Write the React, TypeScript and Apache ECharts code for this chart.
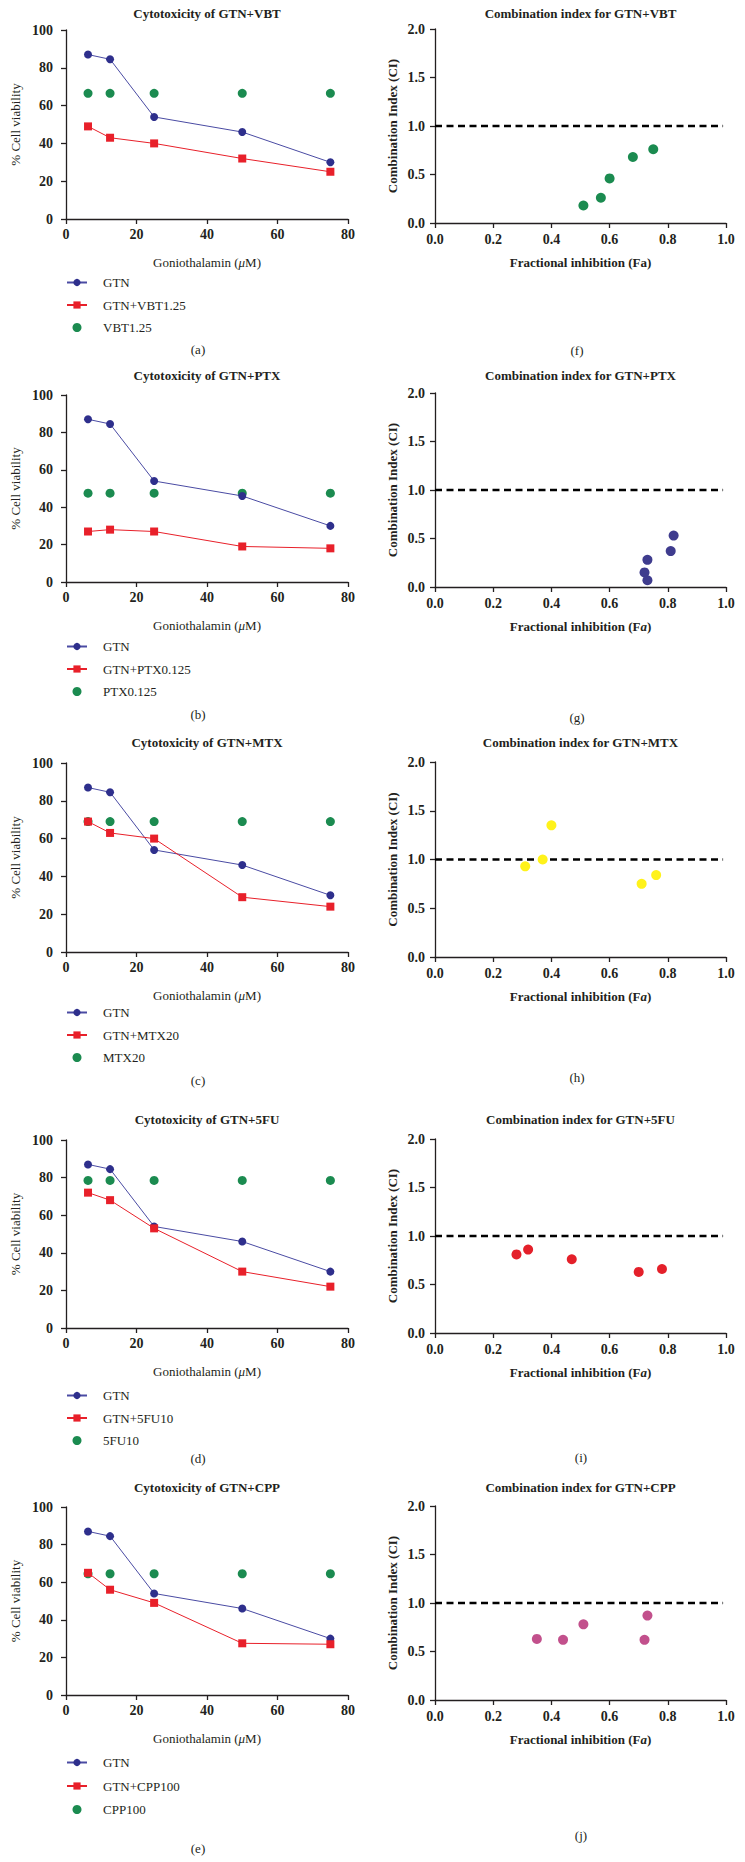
import React, { useEffect, useRef } from "react";
import * as echarts from "echarts";

// ---------- data ----------
const DOSES = [6.25, 12.5, 25, 50, 75];
const GTN = [87, 84.5, 54, 46, 30];

const PANEL_LETTERS_LEFT = ["(a)", "(b)", "(c)", "(d)", "(e)"];
const PANEL_LETTERS_RIGHT = ["(f)", "(g)", "(h)", "(i)", "(j)"];
const DRUG_KEYS = ["VBT", "PTX", "MTX", "5FU", "CPP"];

const COMBO_NAMES = ["GTN+VBT1.25", "GTN+PTX0.125", "GTN+MTX20", "GTN+5FU10", "GTN+CPP100"];
const DRUG_NAMES = ["VBT1.25", "PTX0.125", "MTX20", "5FU10", "CPP100"];

const COMBO_VBT = [49, 43, 40, 32, 25];
const COMBO_PTX = [27, 28, 27, 19, 18];
const COMBO_MTX = [69, 63, 60, 29, 24];
const COMBO_5FU = [72, 68, 53, 30, 22];
const COMBO_CPP = [65, 56, 49, 27.5, 27];

const DRUG_VBT = [66.5, 66.5, 66.5, 66.5, 66.5];
const DRUG_PTX = [47.5, 47.5, 47.5, 47.5, 47.5];
const DRUG_MTX = [69, 69, 69, 69, 69];
const DRUG_5FU = [78.5, 78.5, 78.5, 78.5, 78.5];
const DRUG_CPP = [64.5, 64.5, 64.5, 64.5, 64.5];

const FA_VBT = [0.51, 0.57, 0.6, 0.68, 0.75];
const CI_VBT = [0.18, 0.26, 0.46, 0.68, 0.76];
const FA_PTX = [0.72, 0.73, 0.73, 0.81, 0.82];
const CI_PTX = [0.15, 0.07, 0.28, 0.37, 0.53];
const FA_MTX = [0.31, 0.37, 0.4, 0.71, 0.76];
const CI_MTX = [0.93, 1.0, 1.35, 0.75, 0.84];
const FA_5FU = [0.28, 0.32, 0.47, 0.7, 0.78];
const CI_5FU = [0.81, 0.86, 0.76, 0.63, 0.66];
const FA_CPP = [0.35, 0.44, 0.51, 0.72, 0.73];
const CI_CPP = [0.63, 0.62, 0.78, 0.62, 0.87];

const CI_THRESHOLD = 1.0;
const CI_LINE_X = [0, 0.99];

const VIAB_TICKS_MAX = 100;
const DOSE_TICKS_MAX = 80;

// ---------- layout / style ----------
const COMBOS = [COMBO_VBT, COMBO_PTX, COMBO_MTX, COMBO_5FU, COMBO_CPP];
const DRUGS = [DRUG_VBT, DRUG_PTX, DRUG_MTX, DRUG_5FU, DRUG_CPP];
const FAS = [FA_VBT, FA_PTX, FA_MTX, FA_5FU, FA_CPP];
const CIS = [CI_VBT, CI_PTX, CI_MTX, CI_5FU, CI_CPP];
const CI_COLORS = ["#1b8b50", "#3f3c8e", "#fff21a", "#e4202a", "#c2508c"];

const LEFT_X = 66;
const LEFT_W = 282;
const RIGHT_X = 435;
const RIGHT_W = 291;
const LEFT_TOPS = [30, 395, 763, 1140, 1507];
const LEFT_HS = [189, 187, 189, 188, 188];
const RIGHT_TOPS = [29, 393, 762, 1139, 1506];
const RIGHT_HS = [194, 194, 195, 194, 194];
const TITLE_YS = [13, 375, 742, 1119, 1487];
const LEGEND_TOPS = [276, 640, 1006, 1389, 1756];
const LEGEND_GAPS = [9.5, 9.5, 9.5, 9.5, 10.5];
const LEFT_LABEL_YS = [349, 714, 1080, 1458, 1848];
const RIGHT_LABEL_YS = [350, 717, 1077, 1457, 1835];

const FONT = '"Liberation Serif", "Times New Roman", serif';
const NAVY = "#2e2f8c";
const NAVY_LINE = "#4a4ba3";
const RED = "#e8202a";
const GREEN = "#1b8b50";
const AXIS = "#231f20";

export default function App() {
  const ref = useRef<HTMLDivElement>(null);

  useEffect(() => {
    if (!ref.current) return;
    const chart = echarts.init(ref.current, undefined, { renderer: "svg" });

    const grids: any[] = [];
    const xAxes: any[] = [];
    const yAxes: any[] = [];
    const series: any[] = [];
    const legends: any[] = [];
    const graphics: any[] = [];

    const axisCommon = {
      axisLine: { show: true, lineStyle: { color: AXIS, width: 1.3 } },
      axisTick: { show: true, inside: false, length: 5, lineStyle: { color: AXIS, width: 1.3 } },
      splitLine: { show: false },
    };

    for (let i = 0; i < 5; i++) {
      // left grid
      grids.push({ left: LEFT_X, top: LEFT_TOPS[i], width: LEFT_W, height: LEFT_HS[i], containLabel: false });
      const gl = grids.length - 1;
      xAxes.push({
        gridIndex: gl,
        type: "value",
        min: 0,
        max: DOSE_TICKS_MAX,
        interval: 20,
        ...axisCommon,
        axisLabel: { margin: 8, fontFamily: FONT, fontWeight: "bold", fontSize: 14, color: AXIS },
        name: "Goniothalamin ({i|μ}M)",
        nameLocation: "middle",
        nameGap: 37,
        nameTextStyle: {
          fontFamily: FONT,
          fontSize: 13,
          color: AXIS,
          rich: { i: { fontFamily: FONT, fontSize: 13, fontStyle: "italic", color: AXIS } },
        },
      });
      yAxes.push({
        gridIndex: gl,
        type: "value",
        min: 0,
        max: VIAB_TICKS_MAX,
        interval: 20,
        ...axisCommon,
        axisLabel: { margin: 13, fontFamily: FONT, fontWeight: "bold", fontSize: 14, color: AXIS },
        name: "% Cell viability",
        nameLocation: "middle",
        nameGap: 44,
        nameTextStyle: { fontFamily: FONT, fontSize: 13, color: AXIS },
      });
      series.push({
        name: "GTN",
        type: "line",
        xAxisIndex: gl,
        yAxisIndex: gl,
        data: DOSES.map((d, k) => [d, GTN[k]]),
        symbol: "circle",
        symbolSize: 8,
        itemStyle: { color: NAVY },
        lineStyle: { color: NAVY_LINE, width: 1 },
        z: 3,
      });
      series.push({
        name: COMBO_NAMES[i],
        type: "line",
        xAxisIndex: gl,
        yAxisIndex: gl,
        data: DOSES.map((d, k) => [d, COMBOS[i][k]]),
        symbol: "rect",
        symbolSize: 8,
        itemStyle: { color: RED },
        lineStyle: { color: RED, width: 1 },
        z: 4,
      });
      series.push({
        name: DRUG_NAMES[i],
        type: "scatter",
        xAxisIndex: gl,
        yAxisIndex: gl,
        data: DOSES.map((d, k) => [d, DRUGS[i][k]]),
        symbol: "circle",
        symbolSize: 9,
        itemStyle: { color: GREEN, opacity: 1 },
        z: 2,
      });
      legends.push({
        orient: "vertical",
        left: LEFT_X,
        top: LEGEND_TOPS[i],
        itemWidth: 20,
        itemHeight: 9,
        itemGap: LEGEND_GAPS[i],
        padding: 0,
        selectedMode: false,
        data: ["GTN", COMBO_NAMES[i], DRUG_NAMES[i]],
        textStyle: { fontFamily: FONT, fontSize: 13, color: AXIS, padding: [0, 0, 0, 11] },
      });

      // right grid
      grids.push({ left: RIGHT_X, top: RIGHT_TOPS[i], width: RIGHT_W, height: RIGHT_HS[i], containLabel: false });
      const gr = grids.length - 1;
      xAxes.push({
        gridIndex: gr,
        type: "value",
        min: 0,
        max: 1,
        interval: 0.2,
        ...axisCommon,
        axisLabel: {
          margin: 9,
          fontFamily: FONT,
          fontWeight: "bold",
          fontSize: 14,
          color: AXIS,
          formatter: (v: number) => v.toFixed(1),
        },
        name: i === 0 ? "Fractional inhibition (Fa)" : "Fractional inhibition (F{i|a})",
        nameLocation: "middle",
        nameGap: 33,
        nameTextStyle: {
          fontFamily: FONT,
          fontSize: 13,
          fontWeight: "bold",
          color: AXIS,
          rich: { i: { fontFamily: FONT, fontSize: 13, fontWeight: "bold", fontStyle: "italic", color: AXIS } },
        },
      });
      yAxes.push({
        gridIndex: gr,
        type: "value",
        min: 0,
        max: 2,
        interval: 0.5,
        ...axisCommon,
        axisLabel: {
          margin: 10,
          fontFamily: FONT,
          fontWeight: "bold",
          fontSize: 14,
          color: AXIS,
          formatter: (v: number) => v.toFixed(1),
        },
        name: "Combination Index (CI)",
        nameLocation: "middle",
        nameGap: 36,
        nameTextStyle: { fontFamily: FONT, fontSize: 13, fontWeight: "bold", color: AXIS },
      });
      series.push({
        name: "CI = 1 " + DRUG_KEYS[i],
        type: "line",
        xAxisIndex: gr,
        yAxisIndex: gr,
        data: CI_LINE_X.map((x) => [x, CI_THRESHOLD]),
        symbol: "none",
        lineStyle: { color: "#000", width: 2.5, type: [7, 4.5] },
        z: 2,
      });
      series.push({
        name: "CI " + DRUG_KEYS[i],
        type: "scatter",
        xAxisIndex: gr,
        yAxisIndex: gr,
        data: FAS[i].map((f, k) => [f, CIS[i][k]]),
        symbol: "circle",
        symbolSize: 10,
        itemStyle: { color: CI_COLORS[i], opacity: 1 },
        z: 3,
      });

      // titles
      graphics.push({
        type: "text",
        x: LEFT_X + LEFT_W / 2,
        y: TITLE_YS[i],
        style: {
          text: "Cytotoxicity of GTN+" + DRUG_KEYS[i],
          font: `bold 13px ${FONT}`,
          fill: AXIS,
          align: "center",
          verticalAlign: "middle",
        },
      });
      graphics.push({
        type: "text",
        x: RIGHT_X + RIGHT_W / 2,
        y: TITLE_YS[i],
        style: {
          text: "Combination index for GTN+" + DRUG_KEYS[i],
          font: `bold 13px ${FONT}`,
          fill: AXIS,
          align: "center",
          verticalAlign: "middle",
        },
      });
      graphics.push({
        type: "text",
        x: 198,
        y: LEFT_LABEL_YS[i],
        style: {
          text: PANEL_LETTERS_LEFT[i],
          font: `13px ${FONT}`,
          fill: AXIS,
          align: "center",
          verticalAlign: "middle",
        },
      });
      graphics.push({
        type: "text",
        x: i < 3 ? 577 : 581,
        y: RIGHT_LABEL_YS[i],
        style: {
          text: PANEL_LETTERS_RIGHT[i],
          font: `13px ${FONT}`,
          fill: AXIS,
          align: "center",
          verticalAlign: "middle",
        },
      });
    }

    chart.setOption({
      animation: false,
      backgroundColor: "#ffffff",
      grid: grids,
      xAxis: xAxes,
      yAxis: yAxes,
      legend: legends,
      series,
      graphic: graphics,
    });

    return () => chart.dispose();
  }, []);

  return (
    <div
      ref={ref}
      style={{ position: "absolute", left: 0, top: 0, width: 745, height: 1862, background: "#fff" }}
    />
  );
}
